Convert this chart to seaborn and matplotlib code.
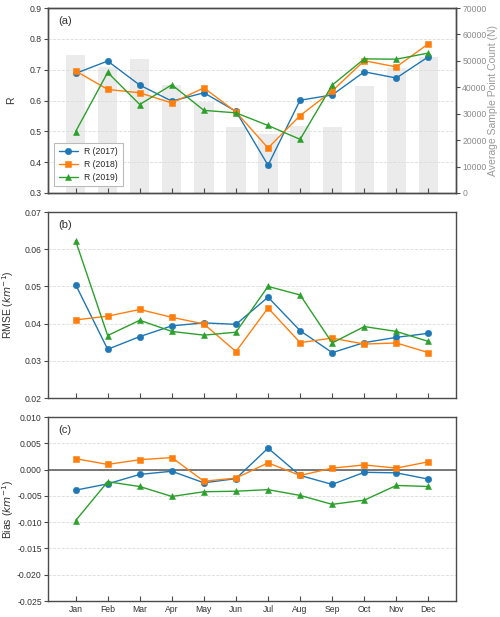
import numpy as np
import pandas as pd
import matplotlib
matplotlib.use("Agg")
import matplotlib.pyplot as plt
import matplotlib.ticker as mticker
import seaborn as sns

months = ["Jan", "Feb", "Mar", "Apr", "May", "Jun", "Jul", "Aug", "Sep", "Oct", "Nov", "Dec"]
sample_count = [52300, 47800, 50600, 40900, 34600, 24900, 22300, 25400, 25000, 40500, 47200, 51600]

r_2017 = [0.688, 0.728, 0.650, 0.598, 0.625, 0.565, 0.390, 0.601, 0.618, 0.693, 0.673, 0.742]
r_2018 = [0.696, 0.636, 0.625, 0.592, 0.641, 0.563, 0.446, 0.551, 0.631, 0.729, 0.709, 0.784]
r_2019 = [0.499, 0.691, 0.587, 0.651, 0.568, 0.560, 0.519, 0.474, 0.650, 0.735, 0.734, 0.754]

rmse_2017 = [0.0505, 0.0331, 0.0365, 0.0394, 0.0402, 0.0398, 0.0471, 0.0381, 0.0322, 0.0349, 0.0363, 0.0374]
rmse_2018 = [0.0410, 0.0420, 0.0438, 0.0417, 0.0399, 0.0325, 0.0442, 0.0349, 0.0361, 0.0345, 0.0348, 0.0322]
rmse_2019 = [0.0623, 0.0368, 0.0409, 0.0379, 0.0369, 0.0377, 0.0500, 0.0477, 0.0348, 0.0392, 0.0379, 0.0352]

bias_2017 = [-0.0039, -0.0027, -0.0009, -0.0003, -0.0025, -0.0017, 0.0041, -0.0011, -0.0028, -0.0005, -0.0006, -0.0018]
bias_2018 = [0.0021, 0.0010, 0.0019, 0.0023, -0.0022, -0.0016, 0.0013, -0.0011, 0.0003, 0.0009, 0.0003, 0.0015]
bias_2019 = [-0.0097, -0.0023, -0.0032, -0.0051, -0.0042, -0.0041, -0.0038, -0.0049, -0.0066, -0.0058, -0.0030, -0.0032]

years = ["2017", "2018", "2019"]
colors = ["#1f77b4", "#ff7f0e", "#2ca02c"]
markers = ["o", "s", "^"]

sns.set_theme(style="ticks")
plt.rcParams["font.family"] = ["Liberation Sans", "DejaVu Sans"]
plt.rcParams["font.size"] = 6
plt.rcParams["axes.unicode_minus"] = True
plt.rcParams["mathtext.fontset"] = "dejavusans"

fig = plt.figure(figsize=(5.0, 6.17), dpi=100)
L, W = 0.096, 0.816
ax_a = fig.add_axes([L, 0.6872, W, 0.2998])
ax_b = fig.add_axes([L, 0.3549, W, 0.3015])
ax_c = fig.add_axes([L, 0.0259, W, 0.2980])

x = np.arange(len(months))
spine_c = "#4a4a4a"
tick_c = "#333333"
TS = 6.2
LS = 7.5
YLX = -0.078


def style_axes(ax):
    for s in ax.spines.values():
        s.set_color(spine_c)
        s.set_linewidth(1.0)
    ax.tick_params(axis="y", direction="out", length=3, width=0.8, colors=spine_c,
                   labelcolor=tick_c, labelsize=TS, pad=1.5)
    ax.tick_params(axis="x", direction="in", length=3.5, width=0.8, colors=spine_c,
                   labelcolor=tick_c, labelsize=TS, pad=3)
    ax.yaxis.grid(True, linestyle="--", color="#dcdcdc", linewidth=0.6)
    ax.set_xlim(-0.86, 11.86)
    ax.set_xticks(x)


def draw_lines(ax, series, legend=False):
    for vals, yr, c, m in zip(series, years, colors, markers):
        sns.lineplot(x=x, y=vals, ax=ax, color=c, marker=m,
                     markersize=5 if m == "^" else 4.6,
                     markeredgecolor=c, markeredgewidth=0.4, linewidth=1.0,
                     label=f"R ({yr})" if legend else None, legend=legend, zorder=3)


# Panel (a)
ax_a2 = ax_a.twinx()
sns.barplot(x=x, y=sample_count, ax=ax_a2, native_scale=True, width=0.6,
            color="#ebebeb", saturation=1, edgecolor="none", zorder=1)
ax_a2.set_ylim(0, 70000)
ax_a2.set_yticks(np.arange(0, 70001, 10000))
ax_a2.set_ylabel("Average Sample Point Count (N)", color="#9a9a9a", fontsize=LS)
ax_a2.yaxis.set_label_coords(1.078, 0.5)
ax_a2.tick_params(axis="y", direction="out", length=3, width=0.8, colors=spine_c,
                  labelcolor="#8a8a8a", labelsize=TS, pad=1.5)
for s in ax_a2.spines.values():
    s.set_color(spine_c)
    s.set_linewidth(1.0)
ax_a.set_zorder(ax_a2.get_zorder() + 1)
ax_a.patch.set_visible(False)

style_axes(ax_a)
ax_a2.set_xlim(-0.86, 11.86)
draw_lines(ax_a, [r_2017, r_2018, r_2019], legend=True)
ax_a.set_ylim(0.3, 0.9)
ax_a.set_yticks(np.arange(0.3, 0.91, 0.1))
ax_a.yaxis.set_major_formatter(mticker.FormatStrFormatter("%.1f"))
ax_a.set_xticklabels([])
ax_a.set_ylabel("R", fontsize=LS, color=tick_c)
ax_a.yaxis.set_label_coords(YLX, 0.5)
ax_a.text(0.025, 0.93, "(a)", transform=ax_a.transAxes, fontsize=8, color=tick_c,
          va="center", ha="left")
leg = ax_a.legend(loc="lower left", fontsize=TS, frameon=True, framealpha=1,
                  edgecolor="#bbbbbb", borderpad=0.5, handlelength=2.2,
                  labelspacing=0.45, bbox_to_anchor=(0.005, 0.012), fancybox=False)
leg.get_frame().set_linewidth(0.8)

# Panel (b)
style_axes(ax_b)
draw_lines(ax_b, [rmse_2017, rmse_2018, rmse_2019])
ax_b.set_ylim(0.02, 0.07)
ax_b.set_yticks(np.arange(0.02, 0.0701, 0.01))
ax_b.yaxis.set_major_formatter(mticker.FormatStrFormatter("%.2f"))
ax_b.set_xticklabels([])
ax_b.set_ylabel("RMSE ($km^{-1}$)", fontsize=LS, color=tick_c)
ax_b.yaxis.set_label_coords(YLX, 0.5)
ax_b.text(0.025, 0.93, "(b)", transform=ax_b.transAxes, fontsize=8, color=tick_c,
          va="center", ha="left")

# Panel (c)
style_axes(ax_c)
ax_c.axhline(0, color="#555555", linewidth=1.1, zorder=2)
draw_lines(ax_c, [bias_2017, bias_2018, bias_2019])
ax_c.set_ylim(-0.025, 0.010)
ax_c.set_yticks(np.arange(-0.025, 0.0101, 0.005))
ax_c.yaxis.set_major_formatter(mticker.FormatStrFormatter("%.3f"))
ax_c.set_xticklabels(months)
ax_c.set_ylabel("Bias ($km^{-1}$)", fontsize=LS, color=tick_c)
ax_c.yaxis.set_label_coords(YLX, 0.5)
ax_c.text(0.025, 0.93, "(c)", transform=ax_c.transAxes, fontsize=8, color=tick_c,
          va="center", ha="left")

fig.savefig("out.png", dpi=100)
